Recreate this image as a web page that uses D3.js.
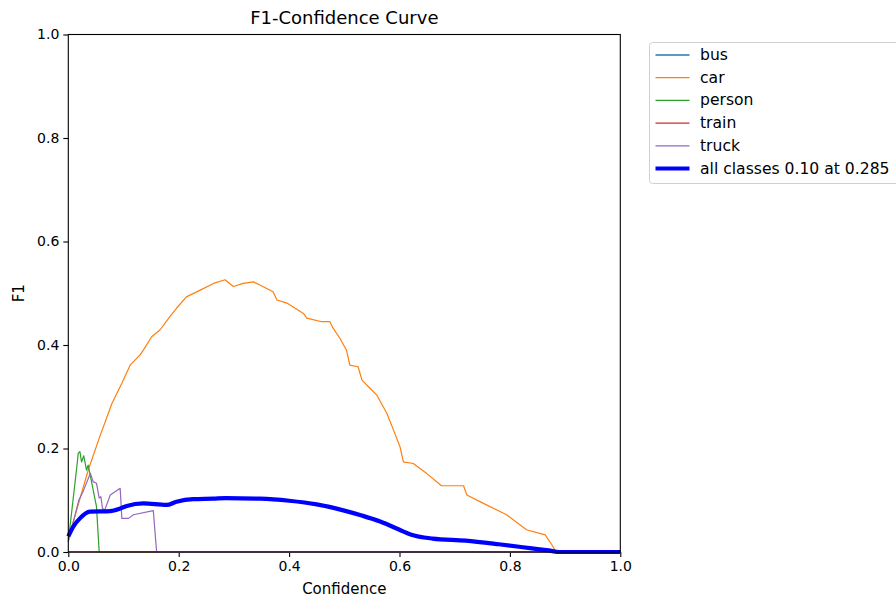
<!DOCTYPE html>
<html>
<head>
<meta charset="utf-8">
<script src="https://cdn.jsdelivr.net/npm/d3@7"></script>
<style>
  body { margin: 0; background: #fff; }
  svg { display: block; font-family: "DejaVu Sans", sans-serif; }
</style>
</head>
<body>
<div id="chart"></div>
<script>
// values
var classNames = ["bus", "car", "person", "train", "truck"];
var classColors = ["#1f77b4", "#ff7f0e", "#2ca02c", "#d62728", "#9467bd"];

var busConf = [0, 1];
var busF1 = [0, 0];

var carConf = [0, 0.036, 0.057, 0.079, 0.097, 0.112, 0.130, 0.136, 0.151, 0.166, 0.184, 0.196, 0.214, 0.239, 0.263, 0.284, 0.299, 0.317, 0.335, 0.347, 0.371, 0.378, 0.396, 0.426, 0.432, 0.459, 0.474, 0.480, 0.492, 0.504, 0.510, 0.525, 0.532, 0.547, 0.559, 0.577, 0.589, 0.601, 0.607, 0.625, 0.649, 0.676, 0.716, 0.722, 0.752, 0.794, 0.830, 0.864, 0.876, 0.882, 1.0];
var carF1 = [0.025, 0.158, 0.223, 0.287, 0.326, 0.361, 0.381, 0.390, 0.416, 0.429, 0.455, 0.471, 0.493, 0.506, 0.519, 0.526, 0.513, 0.519, 0.522, 0.516, 0.503, 0.487, 0.481, 0.461, 0.452, 0.445, 0.445, 0.432, 0.413, 0.390, 0.361, 0.358, 0.332, 0.316, 0.303, 0.268, 0.236, 0.203, 0.174, 0.171, 0.152, 0.128, 0.128, 0.110, 0.094, 0.072, 0.043, 0.033, 0.014, 0.003, 0];

var personConf = [0, 0.016, 0.018, 0.021, 0.024, 0.028, 0.033, 0.036, 0.041, 0.045, 0.051, 0.056, 1.0];
var personF1 = [0.02, 0.17, 0.191, 0.194, 0.174, 0.186, 0.158, 0.168, 0.142, 0.120, 0.088, 0, 0];

var trainConf = [0, 1];
var trainF1 = [0, 0];

var truckConf = [0, 0.019, 0.028, 0.040, 0.045, 0.051, 0.056, 0.059, 0.062, 0.066, 0.076, 0.094, 0.097, 0.109, 0.118, 0.154, 0.160, 1.0];
var truckF1 = [0.02, 0.10, 0.12, 0.152, 0.136, 0.133, 0.104, 0.107, 0.084, 0.081, 0.110, 0.123, 0.065, 0.065, 0.072, 0.080, 0, 0];

var allConf = [0, 0.009, 0.021, 0.039, 0.076, 0.094, 0.106, 0.136, 0.178, 0.196, 0.226, 0.263, 0.285, 0.347, 0.4, 0.45, 0.5, 0.53, 0.565, 0.6, 0.62, 0.66, 0.72, 0.78, 0.84, 0.87, 0.89, 0.92, 1.0];
var allF1 = [0.03, 0.049, 0.065, 0.078, 0.079, 0.084, 0.089, 0.094, 0.091, 0.097, 0.102, 0.103, 0.104, 0.103, 0.099, 0.092, 0.080, 0.071, 0.059, 0.043, 0.034, 0.026, 0.022, 0.015, 0.007, 0.003, 0, 0, 0];
var allLabel = "all classes 0.10 at 0.285";

var xTicks = [0, 0.2, 0.4, 0.6, 0.8, 1.0];
var yTicks = [0, 0.2, 0.4, 0.6, 0.8, 1.0];

// set the dimensions and margins of the graph
var W = 896, H = 599;
var margin = {top: 34.5, left: 68.3},
    width = 552,
    height = 517.5;

var svg = d3.select("#chart")
  .append("svg")
    .attr("width", W)
    .attr("height", H);

svg.append("rect").attr("width", W).attr("height", H).attr("fill", "#fff");

var g = svg.append("g")
    .attr("transform", "translate(" + margin.left + "," + margin.top + ")");

var x = d3.scaleLinear().domain([0, 1]).range([0, width]);
var y = d3.scaleLinear().domain([0, 1]).range([height, 0]);

// axes
var xAxis = g.append("g")
  .attr("transform", "translate(0," + height + ")")
  .call(d3.axisBottom(x).tickValues(xTicks).tickFormat(d3.format(".1f")).tickSize(5).tickPadding(4));
var yAxis = g.append("g")
  .call(d3.axisLeft(y).tickValues(yTicks).tickFormat(d3.format(".1f")).tickSize(5).tickPadding(4));
[xAxis, yAxis].forEach(function(a) {
  a.select(".domain").remove();
  a.selectAll("line").attr("stroke", "#000").attr("stroke-width", 1.1);
  a.selectAll("text").attr("font-family", "DejaVu Sans").attr("font-size", "14px").attr("fill", "#000");
});

// series
var series = [
  {conf: busConf, f1: busF1},
  {conf: carConf, f1: carF1},
  {conf: personConf, f1: personF1},
  {conf: trainConf, f1: trainF1},
  {conf: truckConf, f1: truckF1}
];

var line = d3.line()
  .x(function(d) { return x(d[0]); })
  .y(function(d) { return y(d[1]); });

series.forEach(function(s, i) {
  g.append("path")
    .datum(s.conf.map(function(c, k) { return [c, s.f1[k]]; }))
    .attr("fill", "none")
    .attr("stroke", classColors[i])
    .attr("stroke-width", 1.2)
    .attr("stroke-linejoin", "round")
    .attr("d", line);
});

g.append("path")
  .datum(allConf.map(function(c, k) { return [c, allF1[k]]; }))
  .attr("fill", "none")
  .attr("stroke", "#0000ff")
  .attr("stroke-width", 4.2)
  .attr("stroke-linejoin", "round")
  .attr("stroke-linecap", "butt")
  .attr("d", line.curve(d3.curveMonotoneX));

// frame
g.append("rect")
  .attr("width", width).attr("height", height)
  .attr("fill", "none").attr("stroke", "#000").attr("stroke-width", 1.1);

// labels
svg.append("text")
  .text("F1-Confidence Curve")
  .attr("x", margin.left + width / 2).attr("y", 24)
  .attr("text-anchor", "middle")
  .attr("font-size", "18px");

svg.append("text")
  .text("Confidence")
  .attr("x", margin.left + width / 2).attr("y", 594)
  .attr("text-anchor", "middle")
  .attr("font-size", "15px");

svg.append("text")
  .text("F1")
  .attr("transform", "translate(24," + (margin.top + height / 2) + ") rotate(-90)")
  .attr("text-anchor", "middle")
  .attr("font-size", "15px");

// legend
var legend = svg.append("g").attr("transform", "translate(649.5,42.5)");
legend.append("rect")
  .attr("width", 280).attr("height", 141)
  .attr("rx", 3)
  .attr("fill", "#fff").attr("fill-opacity", 0.8)
  .attr("stroke", "#d0d0d0").attr("stroke-width", 1);

var items = classNames.map(function(n, i) { return {name: n, color: classColors[i], w: 1.3}; });
items.push({name: allLabel, color: "#0000ff", w: 4.2});

items.forEach(function(it, i) {
  var cy = 12.5 + i * 22.7;
  legend.append("line")
    .attr("x1", 6).attr("x2", 40)
    .attr("y1", cy).attr("y2", cy)
    .attr("stroke", it.color).attr("stroke-width", it.w);
  legend.append("text")
    .text(it.name)
    .attr("x", 50.5).attr("y", cy + 5)
    .attr("font-size", "15.6px");
});
</script>
</body>
</html>
